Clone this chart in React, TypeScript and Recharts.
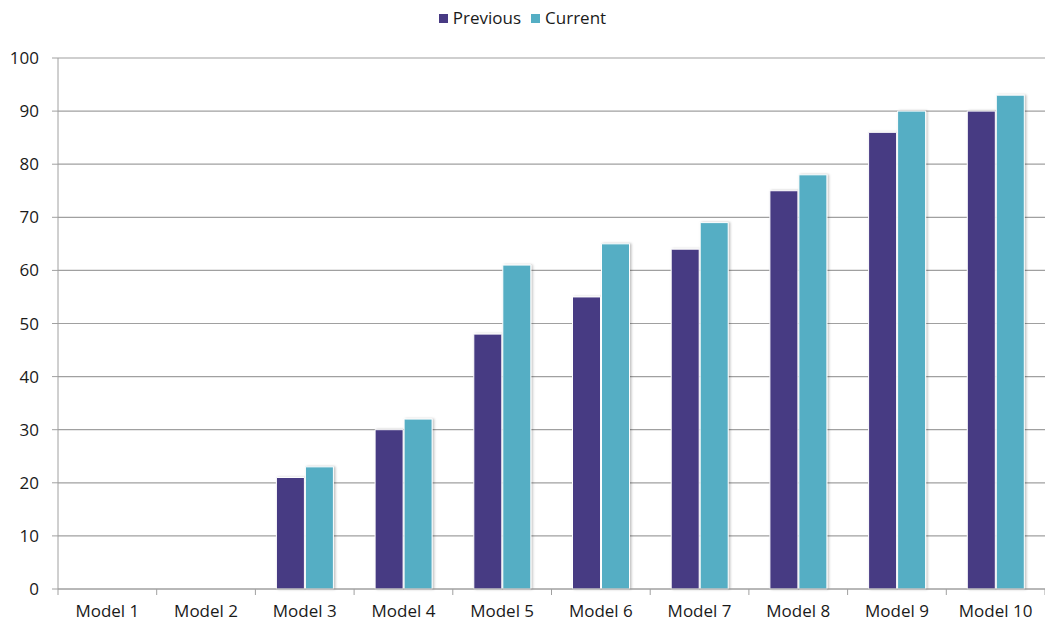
import { BarChart, Bar, XAxis, YAxis, CartesianGrid, Legend } from 'recharts';

const models = ['Model 1', 'Model 2', 'Model 3', 'Model 4', 'Model 5', 'Model 6', 'Model 7', 'Model 8', 'Model 9', 'Model 10'];
const previous = [0, 0, 21, 30, 48, 55, 64, 75, 86, 90];
const current = [0, 0, 23, 32, 61, 65, 69, 78, 90, 93];
const yTicks = [0, 10, 20, 30, 40, 50, 60, 70, 80, 90, 100];

const series = [
  { key: 'previous', label: 'Previous', color: '#473a83' },
  { key: 'current', label: 'Current', color: '#54aec4' },
];

const data = models.map((name, i) => ({ name, previous: previous[i], current: current[i] }));

const W = 1045;
const H = 622;
const M = { top: 38, right: 0, left: 0, bottom: 0 };
const Y_AXIS_W = 58;
const X_AXIS_H = 33;
const FONT = '"Open Sans", sans-serif';
const AXIS = '#a0a0a0';
const TEXT = '#1a1a1a';

// label at the band centre, tick marks on the band edges
function ModelTick(props: any) {
  const { x, y, payload, index } = props;
  const band = (W - M.left - M.right - Y_AXIS_W) / models.length;
  const left = x - band / 2;
  return (
    <g>
      <line x1={left} x2={left} y1={y - 8} y2={y - 2} stroke={AXIS} />
      {index === models.length - 1 && (
        <line x1={left + band} x2={left + band} y1={y - 8} y2={y - 2} stroke={AXIS} />
      )}
      <text x={x} y={y + 20} textAnchor="middle" fill={TEXT} fontSize={17} fontFamily={FONT}>
        {payload.value}
      </text>
    </g>
  );
}

function SeriesLegend() {
  return (
    <div style={{ display: 'flex', justifyContent: 'center', gap: 10, fontFamily: FONT, fontSize: 17, color: TEXT, lineHeight: '20px' }}>
      {series.map((s) => (
        <span key={s.key} style={{ display: 'inline-flex', alignItems: 'center' }}>
          <span style={{ width: 9, height: 9, background: s.color, marginRight: 5, display: 'inline-block' }} />
          {s.label}
        </span>
      ))}
    </div>
  );
}

export default function App() {
  return (
    <div style={{ position: 'absolute', left: 0, top: 0, width: W, height: H, background: '#fff' }}>
      <BarChart width={W} height={H} data={data} margin={M} barCategoryGap={21} barGap={1}>
        <defs>
          <filter id="barShadow" x="-20%" y="-5%" width="140%" height="110%">
            <feDropShadow dx="1.5" dy="0" stdDeviation="1.2" floodColor="#000" floodOpacity="0.25" />
          </filter>
        </defs>
        <CartesianGrid vertical={false} stroke={AXIS} strokeWidth={1.2} />
        <XAxis
          dataKey="name"
          height={X_AXIS_H}
          stroke={AXIS}
          tickLine={false}
          interval={0}
          tick={<ModelTick />}
        />
        <YAxis
          width={Y_AXIS_W}
          domain={[0, 100]}
          ticks={yTicks}
          interval={0}
          stroke={AXIS}
          tickSize={6}
          tickMargin={13}
          tick={{ fill: TEXT, fontSize: 17, fontFamily: FONT }}
        />
        <Legend verticalAlign="top" align="center" height={20} wrapperStyle={{ top: 8 }} content={<SeriesLegend />} />
        {series.map((s) => (
          <Bar
            key={s.key}
            dataKey={s.key}
            name={s.label}
            fill={s.color}
            stroke="#fff"
            strokeWidth={1}
            filter="url(#barShadow)"
            isAnimationActive={false}
          />
        ))}
      </BarChart>
    </div>
  );
}
